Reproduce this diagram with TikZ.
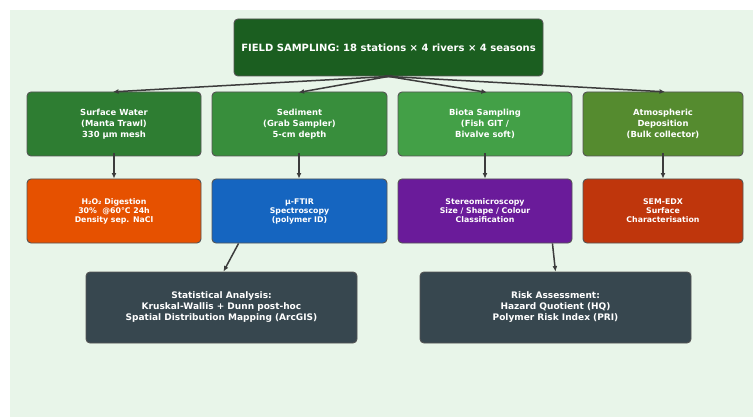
\documentclass[tikz,border=0pt]{standalone}
\usepackage{fontspec}
\setmainfont{DejaVu Sans}
\usetikzlibrary{arrows.meta}

\definecolor{panelbg}{HTML}{E8F5E9}
\definecolor{boxline}{HTML}{555555}
\definecolor{arrowgray}{HTML}{3C3C3C}
\definecolor{fieldgreen}{HTML}{1B5E20}
\definecolor{watergreen}{HTML}{2E7D32}
\definecolor{sedgreen}{HTML}{388E3C}
\definecolor{biotagreen}{HTML}{43A047}
\definecolor{atmosgreen}{HTML}{558B2F}
\definecolor{digestorange}{HTML}{E65100}
\definecolor{ftirblue}{HTML}{1565C0}
\definecolor{stereopurple}{HTML}{6A1B9A}
\definecolor{semred}{HTML}{BF360C}
\definecolor{slate}{HTML}{37474F}

\begin{document}
\begin{tikzpicture}[x=1pt, y=-1pt,
    box/.style={draw=boxline, line width=0.9pt, rounded corners=4pt, text=white, align=center, inner sep=0pt},
    topbox/.style={box, minimum height=57pt, font=\bfseries\fontsize{10}{12}\selectfont},
    samplebox/.style={box, minimum height=64pt, font=\bfseries\fontsize{8.4}{10.8}\selectfont},
    methodbox/.style={box, minimum height=64pt, font=\bfseries\fontsize{7.8}{9}\selectfont},
    resultbox/.style={box, minimum width=271pt, minimum height=71pt, font=\bfseries\fontsize{9}{11}\selectfont},
    arr/.style={-{Latex[length=5.5pt,width=5pt]}, draw=arrowgray, line width=1.5pt}]
  \useasboundingbox (0,0) rectangle (753,417);
  \fill[panelbg] (10,10) rectangle (753,417);

  % field campaign
  \node[topbox, fill=fieldgreen, minimum width=309pt] (field) at (388.5,47.5) {FIELD SAMPLING: 18 stations × 4 rivers × 4 seasons};

  % sampled compartments
  \node[samplebox, fill=watergreen, minimum width=174pt] (water) at (114,124) {Surface Water\\(Manta Trawl)\\330 μm mesh};
  \node[samplebox, fill=sedgreen, minimum width=175pt] (sediment) at (299.5,124) {Sediment\\(Grab Sampler)\\5-cm depth};
  \node[samplebox, fill=biotagreen, minimum width=174pt] (biota) at (485,124) {Biota Sampling\\(Fish GIT /\\Bivalve soft)};
  \node[samplebox, fill=atmosgreen, minimum width=160pt] (atmos) at (663,124) {Atmospheric\\Deposition\\(Bulk collector)};

  % lab methods
  \node[methodbox, fill=digestorange, minimum width=174pt] (digest) at (114,211) {H₂O₂ Digestion\\30\%\ \ @60°C 24h\\Density sep. NaCl};
  \node[methodbox, fill=ftirblue, minimum width=175pt] (ftir) at (299.5,211) {μ-FTIR\\Spectroscopy\\(polymer ID)};
  \node[methodbox, fill=stereopurple, minimum width=174pt] (stereo) at (485,211) {Stereomicroscopy\\Size / Shape / Colour\\Classification};
  \node[methodbox, fill=semred, minimum width=160pt] (semedx) at (663,211) {SEM-EDX\\Surface\\Characterisation};

  % outputs
  \node[resultbox, fill=slate] (stats) at (221.5,307.5) {Statistical Analysis:\\Kruskal-Wallis + Dunn post-hoc\\Spatial Distribution Mapping (ArcGIS)};
  \node[resultbox, fill=slate] (risk) at (555.5,307.5) {Risk Assessment:\\Hazard Quotient (HQ)\\Polymer Risk Index (PRI)};

  \draw[arr, shorten <=-4pt, shorten >=-5pt] (field.south) -- ([xshift=4pt]water.north);
  \draw[arr, shorten <=-4pt, shorten >=-5pt] (field.south) -- ([xshift=4pt]sediment.north);
  \draw[arr, shorten <=-4pt, shorten >=-5pt] (field.south) -- ([xshift=-3pt]biota.north);
  \draw[arr, shorten <=-4pt, shorten >=-5pt] (field.south) -- ([xshift=-3pt]atmos.north);

  \draw[arr, shorten <=-3pt] (water.south) -- (digest.north);
  \draw[arr, shorten <=-3pt] ([xshift=-0.5pt]sediment.south) -- ([xshift=-0.5pt]ftir.north);
  \draw[arr, shorten <=-3pt] (biota.south) -- (stereo.north);
  \draw[arr, shorten <=-3pt] (atmos.south) -- (semedx.north);

  \draw[arr] ([xshift=27pt]ftir.south west) -- ([xshift=2pt]stats.north);
  \draw[arr] ([xshift=-20pt]stereo.south east) -- (risk.north);
\end{tikzpicture}
\end{document}
